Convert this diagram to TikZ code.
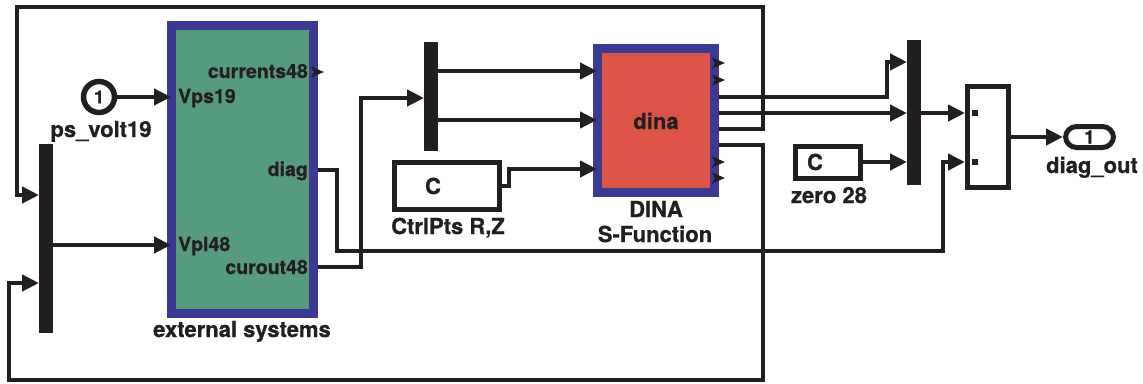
\documentclass[tikz,border=0pt]{standalone}
\usepackage{fontspec}
\setmainfont{TeX Gyre Heros}[BoldFeatures={FakeBold=0.8}]
\usetikzlibrary{arrows.meta}
\definecolor{ink}{HTML}{231F20}
\definecolor{sysblue}{HTML}{3B3A93}
\definecolor{sysgreen}{HTML}{569A80}
\definecolor{dinared}{HTML}{DC5448}
\begin{document}
\begin{tikzpicture}[x=1pt,y=-1pt,
  wire/.style={draw=ink, line width=4.7pt},
  arr/.style={wire, -{Triangle[length=17pt,width=16pt]}},
  intoblue/.style={shorten >=-4pt},
  bigfont/.style={font=\fontsize{22}{25}\selectfont\bfseries, text=ink, inner sep=0pt},
  portfont/.style={font=\fontsize{19.5}{22}\selectfont\bfseries, text=ink, inner sep=0pt},
  bar/.style={fill=ink, draw=none, minimum width=14pt, inner sep=0pt, outer sep=0pt},
  subsys/.style={draw=sysblue, line width=9pt, inner sep=0pt},
  whitebox/.style={draw=ink, fill=white, line width=5pt, inner sep=0pt},
  openport/.style={fill=ink}
]
\useasboundingbox (0,0) rectangle (1143,383);

% ---- blocks ----
\node[subsys, fill=sysgreen, minimum width=142pt, minimum height=288pt] (ext) at (242.5,169.5) {};
\node[subsys, fill=dinared, minimum width=117pt, minimum height=144pt] (dina) at (656,120.5) {};
\node[bar, minimum height=189pt] (lbar) at (46,238.5) {};
\node[bar, minimum height=109pt] (bar2) at (431,96.5) {};
\node[bar, minimum height=145pt] (bar3) at (914,112.5) {};
\node[whitebox, minimum width=105pt, minimum height=47pt] (ctrl) at (447,186) {};
\node[whitebox, minimum width=65pt, minimum height=32pt] (zero) at (828,162) {};
\node[whitebox, minimum width=41pt, minimum height=101pt] (merge) at (988,137) {};
\node[circle, draw=ink, fill=white, line width=5.5pt, minimum size=31pt, inner sep=0pt,
      font=\fontsize{18}{20}\selectfont\bfseries, text=ink] (ps) at (99,97) {1};
\node[draw=ink, fill=white, line width=5pt, rounded corners=11pt, minimum width=48pt,
      minimum height=21pt, inner sep=0pt, font=\fontsize{19}{20}\selectfont\bfseries, text=ink] (outp) at (1089.5,137) {1};

% ---- texts ----
\node[bigfont, anchor=base] (dinatxt) at (656,129) {dina};
\node[bigfont, anchor=base] (ctrlC) at (433,194) {C};
\node[bigfont, anchor=base] (zeroC) at (815,170) {C};
\node[bigfont, anchor=base] (lps) at (101,137) {ps\_volt19};
\node[bigfont, anchor=base] (lext) at (242,337) {external systems};
\node[bigfont, anchor=base] (lctrl) at (448,234) {CtrlPts R,Z};
\node[bigfont, anchor=base] (ldina1) at (656,217) {DINA};
\node[bigfont, anchor=base] (ldina2) at (655,242) {S-Function};
\node[bigfont, anchor=base] (lzero) at (829,203) {zero 28};
\node[bigfont, anchor=base] (lout) at (1092,173) {diag\_out};
\node[portfont, anchor=base west] (pvps) at (178,103) {Vps19};
\node[portfont, anchor=base west] (pvpl) at (178,251) {Vpl48};
\node[portfont, anchor=base east] (pcur) at (308,78) {currents48};
\node[portfont, anchor=base east] (pdiag) at (308,176) {diag};
\node[portfont, anchor=base east] (pcurout) at (308,274) {curout48};

% ---- merge port marks ----
\fill[ink] (972,110) rectangle (978,116);
\fill[ink] (972,159) rectangle (978,165);

% ---- open (unconnected) output ports ----
\foreach \yy in {72} {\fill[openport] (311,\yy-5.5) -- (324,\yy) -- (311,\yy+5.5) -- (314,\yy) -- cycle;}
\foreach \yy in {63,80,162,178} {\fill[openport] (712,\yy-5.5) -- (725,\yy) -- (712,\yy+5.5) -- (715,\yy) -- cycle;}

% ---- connectors ----
\draw[arr, intoblue] (ps.east) -- (ps.east -| ext.west);
\draw[arr, intoblue] (lbar.east |- 0,245) -- (ext.west |- 0,245);
\draw[arr] (ext.east |- 0,267) -- (361,267) -- (361,98) -- (bar2.west |- 0,98);
\draw[arr] (ext.east |- 0,170) -- (337,170) -- (337,251) -- (943,251) -- (943,162) -- (merge.west |- 0,162);
\draw[arr, intoblue] (bar2.east |- 0,71) -- (dina.west |- 0,71);
\draw[arr, intoblue] (bar2.east |- 0,120) -- (dina.west |- 0,120);
\draw[arr, intoblue] (ctrl.east) -- (509,186) -- (509,169) -- (dina.west |- 0,169);
\draw[arr] (dina.east |- 0,97) -- (887,97) -- (887,62) -- (bar3.west |- 0,62);
\draw[arr] (dina.east |- 0,113) -- (bar3.west |- 0,113);
\draw[arr] (dina.east |- 0,129) -- (763,129) -- (763,7) -- (17,7) -- (17,195) -- (lbar.west |- 0,195);
\draw[arr] (dina.east |- 0,145) -- (763,145) -- (763,380) -- (9,380) -- (9,283) -- (lbar.west |- 0,283);
\draw[arr] (zero.east) -- (zero.east -| bar3.west);
\draw[arr] (bar3.east |- 0,113) -- (merge.west |- 0,113);
\draw[arr] (merge.east) -- (outp.west);
\end{tikzpicture}
\end{document}
